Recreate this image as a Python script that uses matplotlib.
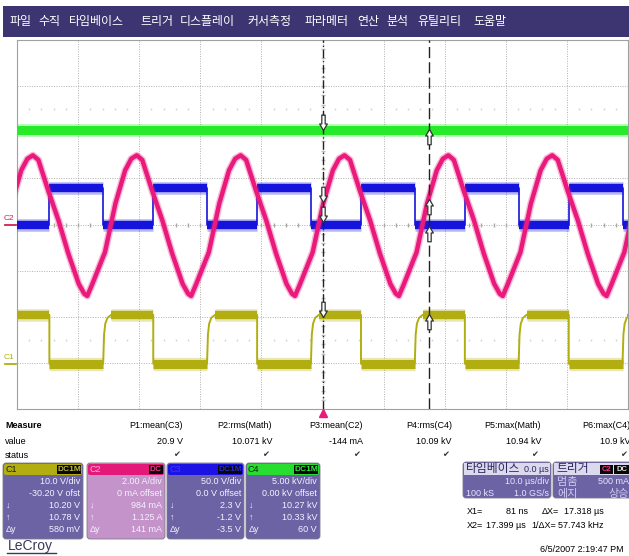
import numpy as np
import matplotlib.pyplot as plt
from matplotlib.path import Path
from matplotlib.patches import Rectangle, FancyBboxPatch
import matplotlib.patheffects as pe

plt.rcParams['font.family'] = ['Liberation Sans', 'Noto Sans CJK KR', 'DejaVu Sans']

# ---- channel settings (scale per div, offset) ----
c1_vdiv, c1_ofs = 10.0, -30.2   # V
c2_vdiv, c2_ofs = 2.0, 0.0      # A
c3_vdiv, c3_ofs = 50.0, 0.0     # V
c4_vdiv, c4_ofs = 5.0, 0.0      # kV

# ---- waveform data (time in us) ----
# C3 blue square wave
c3_rise = [-44.7, -27.7, -10.7, 6.3, 23.3, 40.3]
c3_fall = [-35.9, -18.9, -1.9, 15.1, 32.1, 49.1]
c3_lo, c3_hi = 0.0, 40.0

# C1 yellow square wave (rounded rising edge)
c1_fall = [-44.7, -27.7, -10.7, 6.3, 23.3, 40.3]
c1_rise = [-35.9, -18.9, -1.9, 15.1, 32.1, 49.1]
c1_lo, c1_hi = 0.0, 10.6
c1_edge_dt = [0.0, 0.15, 0.35, 0.7, 1.3]
c1_edge_frac = [0.0, 0.6, 0.82, 0.94, 1.0]

# C2 pink current: trough times + one cycle shape
c2_trough = [-55.5, -38.5, -21.5, -4.5, 12.5, 29.5, 46.5]
c2_dt = [0.0, 0.8, 2.9, 4.6, 6.2, 7.2, 8.1, 9.0, 10.6, 12.3, 13.9, 15.6, 16.5]
c2_amp = [-3.1, -2.6, -1.2, 0.9, 2.35, 2.85, 3.0, 2.8, 1.48, 0.17, -1.26, -2.57, -3.0]

# C4 green
c4_t = [-50.0, 50.0]
c4_v = [10.25, 10.25]

# cursors and readings at them
cur_x1, cur_x2 = 0.081, 17.399
c1_cur = [10.20, 10.78]
c2_cur = [0.984, 1.125]
c3_cur = [2.3, -1.2]
c4_cur = [10.27, 10.33]

# ---- bottom panel text ----
menu_items = ['파일', '수직', '타임베이스', '트리거', '디스플레이', '커서측정',
              '파라메터', '연산', '분석', '유틸리티', '도움말']
menu_x = [10, 38, 69, 140, 180, 247, 305, 357, 386, 417, 473]
p_names = ['P1:mean(C3)', 'P2:rms(Math)', 'P3:mean(C2)', 'P4:rms(C4)', 'P5:max(Math)', 'P6:max(C4)']
p_values = ['20.9 V', '10.071 kV', '-144 mA', '10.09 kV', '10.94 kV', '10.9 kV']
p_right = [183, 272, 363, 452, 541, 630]

ch_rows = {
    'C1': [('', '10.0 V/div'), ('', '-30.20 V ofst'), ('↓', '10.20 V'), ('↑', '10.78 V'), ('Δy', '580 mV')],
    'C2': [('', '2.00 A/div'), ('', '0 mA offset'), ('↓', '984 mA'), ('↑', '1.125 A'), ('Δy', '141 mA')],
    'C3': [('', '50.0 V/div'), ('', '0.0 V offset'), ('↓', '2.3 V'), ('↑', '-1.2 V'), ('Δy', '-3.5 V')],
    'C4': [('', '5.00 kV/div'), ('', '0.00 kV offset'), ('↓', '10.27 kV'), ('↑', '10.33 kV'), ('Δy', '60 V')],
}

YEL, PINK, BLUE, GRN = '#b2ae12', '#ea1a7c', '#1414dc', '#26ea2a'
PURP = '#6c63a5'


def to_div(v, vdiv, ofs):
    return (np.asarray(v, dtype=float) + ofs) / vdiv


def step_trace(t0, v0, edges):
    xs, ys = [t0], [v0]
    for t, v in sorted(edges):
        xs += [t, t]
        ys += [ys[-1], v]
    xs.append(50.0)
    ys.append(ys[-1])
    return np.array(xs), np.array(ys)


fig = plt.figure(figsize=(6.29, 5.56), dpi=100)
ui = fig.add_axes([0, 0, 1, 1])
ui.set_xlim(0, 629)
ui.set_ylim(556, 0)
ui.axis('off')

ax = fig.add_axes([17 / 629, 1 - 409 / 556, 611 / 629, 369 / 556])
ax.set_xlim(-50, 50)
ax.set_ylim(-4, 4)
ax.set_xticks([])
ax.set_yticks([])
for s in ax.spines.values():
    s.set_color('#a0a0a0')
    s.set_linewidth(0.8)

# grid
for gx in range(-40, 50, 10):
    ax.axvline(gx, color='#b0b0b0', lw=0.7, ls=(0, (1, 1.5)), zorder=1)
for gy in range(-3, 4):
    ax.axhline(gy, color='#b0b0b0', lw=0.7, ls=(0, (1, 1.5)), zorder=1)
tk = np.arange(-48, 50, 2)
ax.plot(tk, np.zeros_like(tk), ls='none', marker='|', ms=3.5, color='#a8a8a8', zorder=1)
tky = np.arange(-3.8, 4, 0.2)
ax.plot(np.zeros_like(tky), tky, ls='none', marker='_', ms=3, color='#c0c0c0', zorder=1)
tk2 = np.array([t for t in tk if t % 10 != 0])
for gy in (2.5, -2.5):
    ax.plot(tk2, np.full(len(tk2), gy), ls='none', marker='|', ms=2, color='#d4d4d4', zorder=1)

fuzz = lambda w, c, e=3: [pe.Stroke(linewidth=w + e, foreground=c, alpha=0.3), pe.Normal()]

# C1 yellow
c1x, c1y = [-50.0], [c1_hi]
events = sorted([(t, 'f') for t in c1_fall] + [(t, 'r') for t in c1_rise])
for t, kind in events:
    if kind == 'f':
        c1x += [t, t]
        c1y += [c1_hi, c1_lo]
    else:
        c1x += [t + d for d in c1_edge_dt]
        c1y += [c1_lo + f * (c1_hi - c1_lo) for f in c1_edge_frac]
c1x.append(50.0)
c1y.append(c1y[-1])
ax.plot(c1x, to_div(c1y, c1_vdiv, c1_ofs), color=YEL, lw=1.4, zorder=3)
hi_start = [-50.0] + [t + c1_edge_dt[-1] for t in c1_rise]
for a, b in zip(hi_start, c1_fall + [50.0]):
    ax.hlines(to_div(c1_hi, c1_vdiv, c1_ofs), a, min(b, 50), color=YEL, lw=6, capstyle='butt', zorder=3,
              path_effects=fuzz(6, YEL))
for a, b in zip(c1_fall, c1_rise):
    ax.hlines(to_div(c1_lo, c1_vdiv, c1_ofs), a, b, color=YEL, lw=6.5, capstyle='butt', zorder=3,
              path_effects=fuzz(6.5, YEL))

# C3 blue
c3x, c3y = step_trace(-50.0, c3_lo, [(t, c3_hi) for t in c3_rise] + [(t, c3_lo) for t in c3_fall])
ax.plot(c3x, to_div(c3y, c3_vdiv, c3_ofs), color=BLUE, lw=1.2, zorder=4)
for a, b in zip(c3_rise, c3_fall):
    ax.hlines(to_div(c3_hi, c3_vdiv, c3_ofs), a, b, color=BLUE, lw=6, capstyle='butt', zorder=4,
              path_effects=fuzz(6, BLUE))
for a, b in zip([-50.0] + c3_fall, c3_rise + [50.0]):
    ax.hlines(to_div(c3_lo, c3_vdiv, c3_ofs), a, b, color=BLUE, lw=6, capstyle='butt', zorder=4,
              path_effects=fuzz(6, BLUE))

# C2 pink
c2x = np.concatenate([[t + d for d in c2_dt] for t in c2_trough])
c2y = np.concatenate([c2_amp for _ in c2_trough])
ax.plot(c2x, to_div(c2y, c2_vdiv, c2_ofs), color=PINK, lw=3.2, zorder=5, solid_joinstyle='round',
        path_effects=fuzz(3.2, PINK, 2))

# C4 green
ax.plot(c4_t, to_div(c4_v, c4_vdiv, c4_ofs), color=GRN, lw=6.5, zorder=6, solid_capstyle='butt',
        path_effects=fuzz(6.5, GRN))

# cursors
ax.axvline(cur_x1, color='#222222', lw=1, ls=(0, (6, 2, 1, 2)), zorder=7)
ax.axvline(cur_x2, color='#222222', lw=1, ls=(0, (8, 3)), zorder=7)

down = Path([(-0.22, 2.0), (0.22, 2.0), (0.22, 0.85), (0.5, 0.85), (0, 0), (-0.5, 0.85), (-0.22, 0.85), (-0.22, 2.0)],
            [Path.MOVETO] + [Path.LINETO] * 6 + [Path.CLOSEPOLY])
up = Path(down.vertices * [1, -1], down.codes)
vals = [(c1_cur, c1_vdiv, c1_ofs), (c2_cur, c2_vdiv, c2_ofs), (c3_cur, c3_vdiv, c3_ofs), (c4_cur, c4_vdiv, c4_ofs)]
for cur, vd, of in vals:
    ax.plot([cur_x1], [to_div(cur[0], vd, of)], marker=down, ms=22, mfc='white', mec='#333333', mew=0.9,
            ls='none', zorder=8)
    ax.plot([cur_x2], [to_div(cur[1], vd, of)], marker=up, ms=22, mfc='white', mec='#333333', mew=0.9,
            ls='none', zorder=8)

# trigger position marker
ax.plot([0], [-0.012], transform=ax.get_xaxis_transform(), marker='^', ms=6, color=PINK, clip_on=False, zorder=9)

# channel ground markers at left
ytr = ax.get_yaxis_transform()
ax.plot([-0.02, -0.002], [to_div(0, c2_vdiv, c2_ofs)] * 2, transform=ytr, color='#d02050', lw=1.3, clip_on=False)
ax.text(-0.0045, to_div(0, c2_vdiv, c2_ofs) + 0.06, 'C2', transform=ytr, color='#d02050', fontsize=6,
        ha='right', va='bottom')
ax.plot([-0.02, -0.002], [to_div(0, c1_vdiv, c1_ofs)] * 2, transform=ytr, color=YEL, lw=1.3, clip_on=False)
ax.text(-0.0045, to_div(0, c1_vdiv, c1_ofs) + 0.06, 'C1', transform=ytr, color=YEL, fontsize=6,
        ha='right', va='bottom')

# ---- menu bar ----
ui.add_patch(Rectangle((3, 6), 626, 31, fc='#3d3572', ec='none'))
for name, mx in zip(menu_items, menu_x):
    ui.text(mx, 21.5, name, color='white', fontsize=8.6, va='center', ha='left')

# ---- measure table ----
fs = 6.5
ui.text(5, 426, 'Measure', fontsize=fs, fontweight='bold', va='center')
ui.text(5, 441, 'value', fontsize=fs, va='center')
ui.text(5, 455, 'status', fontsize=fs, va='center')
for n, v, r in zip(p_names, p_values, p_right):
    ui.text(r, 426, n, fontsize=fs, ha='right', va='center')
    ui.text(r, 441, v, fontsize=fs, ha='right', va='center')
    ui.text(r - 3, 455, '✔', fontsize=6, ha='right', va='center', color='#333333')

# ---- channel boxes ----
boxes = [('C1', 3, 83, YEL, PURP, '#1a1a1a', 'DC1M', '#c0b840'),
         ('C2', 87, 165, '#e41878', '#c393c9', '#ffb0d8', 'DC', '#ff3090'),
         ('C3', 167, 244, '#1c12e4', PURP, '#3a3aff', 'DC1M', '#2a2ad0'),
         ('C4', 246, 320, '#26dd30', PURP, '#102010', 'DC1M', '#30f040')]
row_y = [481, 493, 505, 517, 529]
for name, x0, x1, hc, bc, nc, badge, bcol in boxes:
    ui.add_patch(FancyBboxPatch((x0, 463), x1 - x0, 76, boxstyle='round,pad=0,rounding_size=3',
                                fc=bc, ec='#7a7a8a', lw=0.6))
    ui.add_patch(FancyBboxPatch((x0 + 1, 464), x1 - x0 - 2, 11, boxstyle='round,pad=0,rounding_size=2',
                                fc=hc, ec='none'))
    ui.text(x0 + 2, 469.5, name, fontsize=6.5, color=nc, va='center')
    bw = 24 if len(badge) == 4 else 14
    ui.add_patch(Rectangle((x1 - bw - 2, 465), bw, 9, fc='#080808', ec='none'))
    ui.text(x1 - 2 - bw / 2, 469.5, badge, fontsize=6, color=bcol, va='center', ha='center', fontweight='bold')
    for (lt, rt), yy in zip(ch_rows[name], row_y):
        ui.text(x1 - 3, yy, rt, fontsize=fs, color='#f4f2ff', ha='right', va='center')
        if lt:
            ui.text(x0 + 3, yy, lt, fontsize=fs, color='#f4f2ff', ha='left', va='center')

# timebase / trigger boxes
for x0, x1 in ((463, 551), (553, 632)):
    ui.add_patch(FancyBboxPatch((x0, 462), x1 - x0, 36, boxstyle='round,pad=0,rounding_size=3',
                                fc=PURP, ec='#7a7a8a', lw=0.6))
    ui.add_patch(Rectangle((x0 + 1, 463), x1 - x0 - 2, 12, fc='#dcd8ee', ec='none'))
ui.text(466, 469, '타임베이스', fontsize=8.5, color='#2c2660', va='center')
ui.text(549, 469, '0.0 µs', fontsize=fs, color='#2c2660', ha='right', va='center')
ui.text(549, 482, '10.0 µs/div', fontsize=fs, color='#e8e4ff', ha='right', va='center')
ui.text(466, 493, '100 kS', fontsize=fs, color='#e8e4ff', va='center')
ui.text(549, 493, '1.0 GS/s', fontsize=fs, color='#e8e4ff', ha='right', va='center')
ui.text(556, 469, '트리거', fontsize=8.5, color='#2c2660', va='center')
ui.add_patch(Rectangle((600, 465), 13, 9, fc='#080808', ec='none'))
ui.text(606.5, 469.5, 'C2', fontsize=5.5, color='#ff3090', ha='center', va='center', fontweight='bold')
ui.add_patch(Rectangle((614, 465), 15, 9, fc='#080808', ec='none'))
ui.text(621.5, 469.5, 'DC', fontsize=5.5, color='#e0e0e0', ha='center', va='center', fontweight='bold')
ui.text(557, 482, '멈춤', fontsize=8, color='#cfc8f2', va='center')
ui.text(629, 482, '500 mA', fontsize=fs, color='#e8e4ff', ha='right', va='center')
ui.text(557, 494, '에지', fontsize=8, color='#cfc8f2', va='center')
ui.text(629, 494, '상승', fontsize=8, color='#cfc8f2', ha='right', va='center')

# cursor readouts
ui.text(467, 511, 'X1=', fontsize=fs, va='center')
ui.text(528, 511, '81 ns', fontsize=fs, ha='right', va='center')
ui.text(542, 511, 'ΔX=', fontsize=fs, va='center')
ui.text(604, 511, '17.318 µs', fontsize=fs, ha='right', va='center')
ui.text(467, 526, 'X2=', fontsize=fs, va='center')
ui.text(526, 526, '17.399 µs', fontsize=fs, ha='right', va='center')
ui.text(531, 526, '1/ΔX=', fontsize=fs, va='center')
ui.text(604, 526, '57.743 kHz', fontsize=fs, ha='right', va='center')
ui.text(624, 549, '6/5/2007 2:19:47 PM', fontsize=fs, ha='right', va='center')

# logo
ui.text(8, 546, 'LeCroy', fontsize=10, color='#3a3a5a', va='center')
ui.plot([7, 56], [553, 553], color='#3a3a5a', lw=1)

fig.savefig('out.png', dpi=100)
